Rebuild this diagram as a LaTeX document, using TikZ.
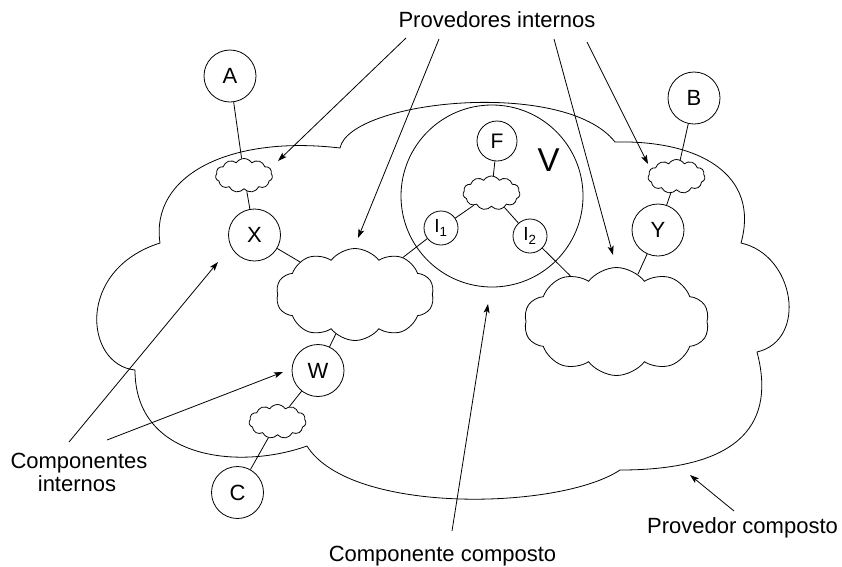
\documentclass[tikz,border=0pt]{standalone}
\usepackage{fontspec}
\setmainfont{Liberation Sans}
\usetikzlibrary{shapes.symbols,arrows.meta}

\begin{document}
\begin{tikzpicture}[x=1pt,y=-1pt,
  every node/.style={font=\fontsize{22}{23}\selectfont},
  thin line/.style={line width=0.8pt},
  comp/.style={circle,draw,thin line,minimum size=52pt,inner sep=0pt},
  inner comp/.style={circle,draw,thin line,minimum size=34pt,inner sep=0pt,
    font=\fontsize{19}{20}\selectfont},
  provider/.style={cloud,draw,thin line,cloud puffs=10,cloud puff arc=105,
    cloud ignores aspect,inner sep=0pt},
  label/.style={anchor=base,align=center},
  pointer/.style={thin line,-{Stealth[length=9pt,width=6pt,inset=2pt]}},
]
\useasboundingbox (0,0) rectangle (842,566);

% composite provider: the large outer cloud
\draw[thin line] (135,370)
  .. controls (85,365) and (75,270) .. (160,243)
  .. controls (150,175) and (230,135) .. (340,148)
  .. controls (350,100) and (565,78) .. (615,142)
  .. controls (700,140) and (760,175) .. (741,243)
  .. controls (795,255) and (808,340) .. (757,352)
  .. controls (775,420) and (745,470) .. (620,470)
  .. controls (560,510) and (350,515) .. (307,446)
  .. controls (240,470) and (135,460) .. (135,370);

% composite component V
\node[circle,draw,thin line,minimum size=182pt,inner sep=0pt] (V) at (492,196) {};
\node[anchor=base,font=\fontsize{33}{34}\selectfont] (Vlabel) at (548.5,171) {V};

% components
\node[comp] (A) at (230,76) {A};
\node[comp] (X) at (254.5,235) {X};
\node[comp] (W) at (318,370.5) {W};
\node[comp] (C) at (237.5,492.5) {C};
\node[comp] (B) at (694,98) {B};
\node[comp] (Y) at (658,230) {Y};
\node[comp,minimum size=40pt,font=\fontsize{21}{22}\selectfont] (F) at (497,141) {F};
\node[inner comp] (I1) at (441,228) {I\textsubscript{1}};
\node[inner comp] (I2) at (530,236) {I\textsubscript{2}};

% internal providers
\node[provider,minimum width=57pt,minimum height=34pt,cloud puffs=11,cloud puff arc=115] (pA) at (244,175.5) {};
\node[provider,minimum width=57pt,minimum height=34pt,cloud puffs=11,cloud puff arc=115] (pF) at (491.5,193) {};
\node[provider,minimum width=57pt,minimum height=34pt,cloud puffs=11,cloud puff arc=115] (pB) at (676.5,176.5) {};
\node[provider,minimum width=57pt,minimum height=34pt,cloud puffs=11,cloud puff arc=115] (pC) at (277.5,421.5) {};
\node[provider,minimum width=158pt,minimum height=92pt] (pL) at (355,294.5) {};
\node[provider,minimum width=185pt,minimum height=108pt] (pR) at (616.5,321.5) {};

% bindings
\draw[thin line] (A) -- (pA);
\draw[thin line] (pA) -- (X);
\draw[thin line] (X) -- (pL);
\draw[thin line] (pL) -- (W);
\draw[thin line] (W) -- (pC);
\draw[thin line] (pC) -- (C);
\draw[thin line] (F) -- (pF);
\draw[thin line] (pF) -- (I1);
\draw[thin line] (pF) -- (I2);
\draw[thin line] (I1) -- (pL);
\draw[thin line] (I2) -- (pR);
\draw[thin line] (B) -- (pB);
\draw[thin line] (pB) -- (Y);
\draw[thin line] (Y) -- (pR);

% captions
\node[label] (tProv) at (497,27) {Provedores internos};
\node[label] (tComp) at (79,468) {Componentes};
\node[label] (tComp2) at (77,491) {internos};
\node[label] (tCC) at (442.5,561) {Componente composto};
\node[label] (tPC) at (742.5,533) {Provedor composto};

% pointer ends
\coordinate (e1) at (278,161);
\coordinate (e2) at (358,238);
\coordinate (e3) at (613,255);
\coordinate (e4) at (648,164);
\coordinate (e5) at (218,262);
\coordinate (e6) at (283,372);
\coordinate (e7) at (488,304);
\coordinate (e8) at (690,475);

% pointer starts
\coordinate (s1) at (406,38);
\coordinate (s2) at (439,39);
\coordinate (s3) at (554,39);
\coordinate (s4) at (587,42);
\coordinate (s5) at (69,442);
\coordinate (s6) at (107,440);
\coordinate (s7) at (452,531);
\coordinate (s8) at (734,511);

\draw[pointer] (s1) -- (e1);
\draw[pointer] (s2) -- (e2);
\draw[pointer] (s3) -- (e3);
\draw[pointer] (s4) -- (e4);
\draw[pointer] (s5) -- (e5);
\draw[pointer] (s6) -- (e6);
\draw[pointer] (s7) -- (e7);
\draw[pointer] (s8) -- (e8);
\end{tikzpicture}
\end{document}
